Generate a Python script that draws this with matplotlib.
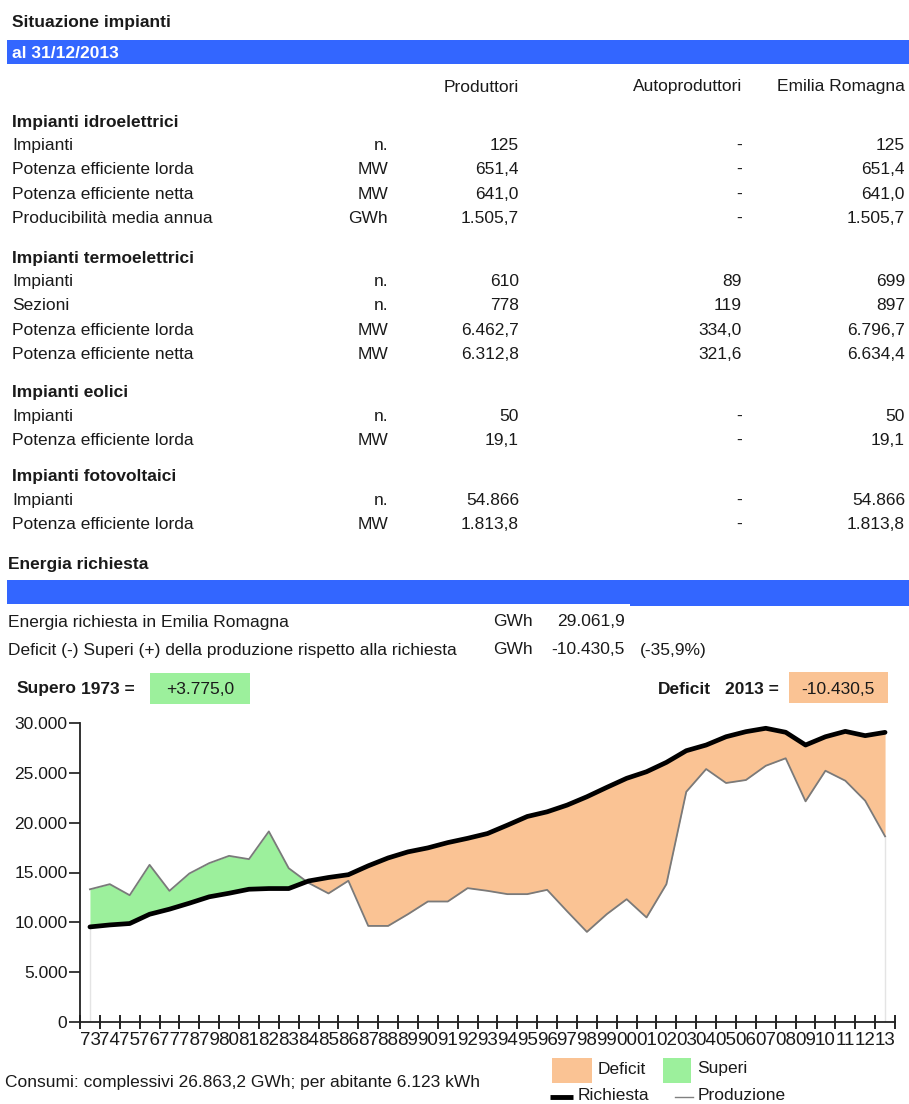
import matplotlib
import numpy as np

matplotlib.use("Agg")
import matplotlib.pyplot as plt
from matplotlib.patches import Rectangle
from matplotlib.ticker import FuncFormatter

plt.rcParams["font.family"] = ["Liberation Sans", "DejaVu Sans"]

# --- table data -------------------------------------------------------------
columns = ["Produttori", "Autoproduttori", "Emilia Romagna"]

hydro_labels = ["Impianti", "Potenza efficiente lorda", "Potenza efficiente netta",
                "Producibilità media annua"]
hydro_units = ["n.", "MW", "MW", "GWh"]
hydro_prod = ["125", "651,4", "641,0", "1.505,7"]
hydro_auto = ["-", "-", "-", "-"]
hydro_er = ["125", "651,4", "641,0", "1.505,7"]

thermo_labels = ["Impianti", "Sezioni", "Potenza efficiente lorda", "Potenza efficiente netta"]
thermo_units = ["n.", "n.", "MW", "MW"]
thermo_prod = ["610", "778", "6.462,7", "6.312,8"]
thermo_auto = ["89", "119", "334,0", "321,6"]
thermo_er = ["699", "897", "6.796,7", "6.634,4"]

wind_labels = ["Impianti", "Potenza efficiente lorda"]
wind_units = ["n.", "MW"]
wind_prod = ["50", "19,1"]
wind_auto = ["-", "-"]
wind_er = ["50", "19,1"]

pv_labels = ["Impianti", "Potenza efficiente lorda"]
pv_units = ["n.", "MW"]
pv_prod = ["54.866", "1.813,8"]
pv_auto = ["-", "-"]
pv_er = ["54.866", "1.813,8"]

# --- chart data (GWh) -------------------------------------------------------
years = np.arange(1973, 2014)
richiesta = np.array([
    9540, 9740, 9880, 10810, 11320, 11920, 12560, 12920, 13320, 13390,
    13390, 14150, 14500, 14780, 15670, 16460, 17070, 17470, 18000, 18430,
    18910, 19750, 20620, 21090, 21760, 22600, 23540, 24450, 25110, 26050,
    27220, 27790, 28620, 29130, 29470, 29070, 27790, 28620, 29160, 28730,
    29062,
])
produzione = np.array([
    13315, 13830, 12720, 15770, 13160, 14900, 15940, 16670, 16340, 19120,
    15430, 13950, 12900, 14170, 9640, 9640, 10820, 12090, 12090, 13430,
    13160, 12830, 12830, 13260, 11120, 9040, 10820, 12320, 10490, 13830,
    23100, 25380, 23980, 24280, 25710, 26460, 22140, 25210, 24210, 22200,
    18631,
])

C_BLUE = "#3366ff"
C_GREEN = "#9cf09c"
C_ORANGE = "#fac394"
C_TEXT = "#1a1a1a"
FS = 12.5

fig = plt.figure(figsize=(9.09, 11.04), dpi=100)
bg = fig.add_axes([0, 0, 1, 1])
bg.set_xlim(0, 909)
bg.set_ylim(1104, 0)
bg.axis("off")


def txt(x, y, s, ha="left", bold=False, color=C_TEXT, size=FS):
    bg.text(x, y, s, ha=ha, va="center", fontsize=size, color=color,
            fontweight="bold" if bold else "normal")


# header
txt(12, 22, "Situazione impianti", bold=True)
bg.add_patch(Rectangle((7, 40), 902, 24, color=C_BLUE, lw=0))
txt(12, 53, "al 31/12/2013", bold=True, color="white")

col_right = [519, 742, 905]
for name, xr in zip(columns, col_right):
    txt(xr, 87, name, ha="right")

sections = [
    ("Impianti idroelettrici", 122, hydro_labels, hydro_units, hydro_prod, hydro_auto, hydro_er),
    ("Impianti termoelettrici", 258, thermo_labels, thermo_units, thermo_prod, thermo_auto, thermo_er),
    ("Impianti eolici", 393, wind_labels, wind_units, wind_prod, wind_auto, wind_er),
    ("Impianti fotovoltaici", 477, pv_labels, pv_units, pv_prod, pv_auto, pv_er),
]
row_step = 24.3
for title, y0, labels, units, prod, auto, er in sections:
    txt(12, y0, title, bold=True)
    for i, lab in enumerate(labels):
        y = y0 + 23.5 + i * row_step
        txt(12, y, lab)
        txt(388, y, units[i], ha="right")
        for xr, val in zip(col_right, (prod[i], auto[i], er[i])):
            txt(xr, y, val, ha="right")

# energia richiesta block
txt(8, 564, "Energia richiesta", bold=True)
bg.add_patch(Rectangle((7, 580), 902, 24, color=C_BLUE, lw=0))
bg.add_patch(Rectangle((630, 600), 279, 6, color=C_BLUE, lw=0))
txt(8, 622, "Energia richiesta in Emilia Romagna")
txt(493, 622, "GWh")
txt(625, 622, "29.061,9", ha="right")
txt(8, 650, "Deficit (-) Superi (+) della produzione rispetto alla richiesta")
txt(493, 650, "GWh")
txt(625, 650, "-10.430,5", ha="right")
txt(640, 650, "(-35,9%)")

txt(17, 689, "Supero", bold=True)
txt(81, 689, "1973 =", bold=True)
bg.add_patch(Rectangle((150, 673), 100, 31, color=C_GREEN, lw=0))
txt(200, 689, "+3.775,0", ha="center")
txt(658, 689, "Deficit", bold=True)
txt(725, 689, "2013 =", bold=True)
bg.add_patch(Rectangle((789, 672), 99, 31, color=C_ORANGE, lw=0))
txt(838, 689, "-10.430,5", ha="center")

# footer + legend
txt(5, 1082, "Consumi: complessivi 26.863,2 GWh; per abitante 6.123 kWh")
bg.add_patch(Rectangle((552, 1058), 40, 25, color=C_ORANGE, lw=0))
txt(598, 1069, "Deficit")
bg.add_patch(Rectangle((663, 1058), 28, 25, color=C_GREEN, lw=0))
txt(697, 1069, "Superi")
bg.plot([550, 573], [1097, 1097], color="black", lw=3.5, solid_capstyle="butt")
txt(578, 1096, "Richiesta")
bg.plot([675, 693], [1097, 1097], color="#808080", lw=1.0)
txt(698, 1096, "Produzione")

# --- chart --------------------------------------------------------------------
ax = fig.add_axes([80 / 909, (1104 - 1022) / 1104, 815 / 909, 299 / 1104])
x = np.arange(len(years))
ax.fill_between(x, richiesta, produzione, where=produzione >= richiesta,
                interpolate=True, color=C_GREEN, lw=0)
ax.fill_between(x, richiesta, produzione, where=produzione <= richiesta,
                interpolate=True, color=C_ORANGE, lw=0)
base_top = np.minimum(richiesta, produzione)
ax.vlines([x[0], x[-1]], 0, [base_top[0], base_top[-1]], color="#e4e4e4", lw=1)
ax.plot(x, produzione, color="#7a7a7a", lw=1.3)
ax.plot(x, richiesta, color="black", lw=3.4, solid_capstyle="round")

ax.set_xlim(-0.5, len(years) - 0.5)
ax.set_ylim(0, 30000)
ax.set_xticks(np.arange(-0.5, len(years)), labels=[])
ax.set_xticks(x, minor=True, labels=[f"{y % 100:02d}" for y in years])
ax.tick_params(axis="x", which="major", direction="inout", length=10, width=1.2)
ax.tick_params(axis="x", which="minor", length=0, labelsize=13.5, pad=7, colors=C_TEXT)
ax.set_yticks(np.arange(0, 30001, 5000))
ax.yaxis.set_major_formatter(FuncFormatter(lambda v, _: f"{int(v):,}".replace(",", ".")))
ax.tick_params(axis="y", direction="out", length=8, width=1.2, labelsize=FS,
               pad=1, colors=C_TEXT)
for side in ("top", "right"):
    ax.spines[side].set_visible(False)
for side in ("left", "bottom"):
    ax.spines[side].set_linewidth(1.3)
    ax.spines[side].set_color("#222222")
ax.patch.set_alpha(0)

fig.savefig("out.png", dpi=100)
